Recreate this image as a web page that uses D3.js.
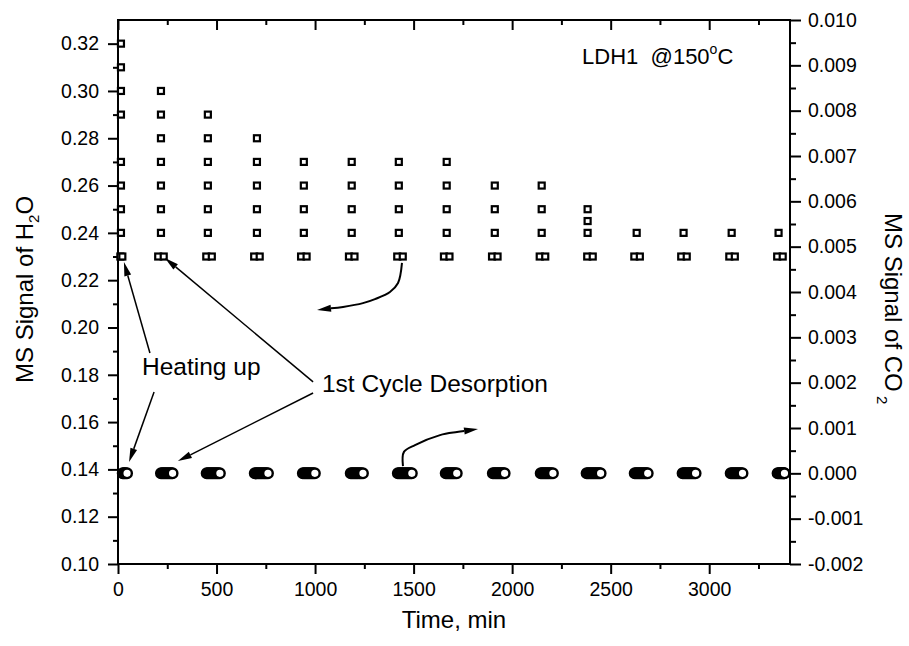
<!DOCTYPE html>
<html>
<head>
<meta charset="utf-8">
<script src="https://cdn.jsdelivr.net/npm/d3@7"></script>
<style>
  html, body { margin: 0; padding: 0; background: #fff; }
  #chart { width: 909px; height: 646px; }
  text { font-family: "Liberation Sans", Arial, sans-serif; fill: #000; }
</style>
</head>
<body>
<div id="chart"></div>
<script>
// 1. DATA
// H2O signal (left axis): one column of quantised levels per cycle
const h2oTimes = [15, 218, 456, 705, 943, 1186, 1425, 1668, 1912, 2150, 2383, 2632, 2870, 3114, 3352];
const h2oLevels = [
    [0.32, 0.31, 0.30, 0.29, 0.27, 0.26, 0.25, 0.24],
    [0.30, 0.29, 0.28, 0.27, 0.26, 0.25, 0.24],
    [0.29, 0.28, 0.27, 0.26, 0.25, 0.24],
    [0.28, 0.27, 0.26, 0.25, 0.24],
    [0.27, 0.26, 0.25, 0.24],
    [0.27, 0.26, 0.25, 0.24],
    [0.27, 0.26, 0.25, 0.24],
    [0.27, 0.26, 0.25, 0.24],
    [0.26, 0.25, 0.24],
    [0.26, 0.25, 0.24],
    [0.25, 0.245, 0.24],
    [0.24],
    [0.24],
    [0.24],
    [0.24]
];
// floor level of H2O, a couple of readings per cycle
const h2oFloorLevel = 0.23;
const h2oFloorTimes = [
    [12, 22], [204, 232], [448, 476], [691, 719], [929, 957], [1172, 1200], [1417, 1445],
    [1654, 1682], [1898, 1926], [2140, 2168], [2381, 2409], [2620, 2648], [2858, 2886],
    [3102, 3130], [3345, 3373]
];
// CO2 signal (right axis): stays at zero, dense readings per cycle
const co2Level = 0;
const co2Times = [
    [24, 29, 34, 40, 46],
    [218, 224, 230, 236, 242, 248, 254, 260, 266, 272, 277],
    [450, 456, 462, 468, 474, 480, 486, 492, 498, 504, 510, 517],
    [694, 700, 706, 712, 718, 724, 730, 736, 742, 748, 754, 761],
    [938, 944, 950, 956, 962, 968, 974, 980, 986, 992, 999],
    [1181, 1187, 1193, 1199, 1205, 1211, 1217, 1223, 1229, 1235, 1243],
    [1420, 1426, 1432, 1438, 1444, 1450, 1456, 1462, 1468, 1474, 1480, 1486, 1491],
    [1663, 1669, 1675, 1681, 1687, 1693, 1699, 1705, 1711, 1719],
    [1902, 1908, 1914, 1920, 1926, 1932, 1938, 1944, 1950, 1956, 1962],
    [2145, 2151, 2157, 2163, 2169, 2175, 2181, 2187, 2193, 2199, 2207],
    [2378, 2384, 2390, 2396, 2402, 2408, 2414, 2420, 2426, 2432, 2438, 2444, 2449],
    [2622, 2628, 2634, 2640, 2646, 2652, 2658, 2664, 2670, 2676, 2682, 2688],
    [2865, 2871, 2877, 2883, 2889, 2895, 2901, 2907, 2913, 2919, 2925, 2931],
    [3109, 3115, 3121, 3127, 3133, 3139, 3145, 3151, 3157, 3163, 3169],
    [3347, 3352, 3357, 3362, 3366, 3370, 3374, 3377, 3380, 3382]
];
// tick labels
const xTicks = [0, 500, 1000, 1500, 2000, 2500, 3000];
const h2oTicks = [0.10, 0.12, 0.14, 0.16, 0.18, 0.20, 0.22, 0.24, 0.26, 0.28, 0.30, 0.32];
const co2Ticks = [-0.002, -0.001, 0, 0.001, 0.002, 0.003, 0.004, 0.005, 0.006, 0.007, 0.008, 0.009, 0.010];

const drawChart = () => {
    const W = 909, H = 646;
    const plot = { left: 118, right: 790, top: 20, bottom: 564 };

    // 2. SCALES
    const x = d3.scaleLinear().domain([0, 3410]).range([plot.left, plot.right]);
    const yL = d3.scaleLinear().domain([0.10, 0.33]).range([plot.bottom, plot.top]);
    const yR = d3.scaleLinear().domain([-0.002, 0.010]).range([plot.bottom, plot.top]);

    const svg = d3.select("#chart").append("svg")
        .attr("width", W)
        .attr("height", H);

    // 3. AXES
    const styleAxis = g => {
        g.select(".domain").remove();
        g.selectAll(".tick line").attr("stroke", "#000").attr("stroke-width", 2);
        g.selectAll(".tick text").style("font-size", "19.5px");
    };
    const xMinor = d3.range(250, 3410, 500);
    const h2oMinor = d3.range(0.11, 0.325, 0.02);
    const co2Minor = d3.range(-0.0015, 0.0099, 0.001);

    svg.append("g").attr("transform", `translate(0,${plot.bottom})`)
        .call(d3.axisBottom(x).tickValues(xTicks).tickSize(10).tickPadding(8).tickFormat(d3.format("d")))
        .call(styleAxis);
    svg.append("g").attr("transform", `translate(0,${plot.bottom})`)
        .call(d3.axisBottom(x).tickValues(xMinor).tickSize(5).tickFormat(""))
        .call(styleAxis);
    svg.append("g").attr("transform", `translate(0,${plot.top})`)
        .call(d3.axisTop(x).tickValues(xTicks).tickSize(-10).tickFormat(""))
        .call(styleAxis);
    svg.append("g").attr("transform", `translate(0,${plot.top})`)
        .call(d3.axisTop(x).tickValues(xMinor).tickSize(-5).tickFormat(""))
        .call(styleAxis);

    svg.append("g").attr("transform", `translate(${plot.left},0)`)
        .call(d3.axisLeft(yL).tickValues(h2oTicks).tickSize(10).tickPadding(9).tickFormat(d3.format(".2f")))
        .call(styleAxis);
    svg.append("g").attr("transform", `translate(${plot.left},0)`)
        .call(d3.axisLeft(yL).tickValues(h2oMinor).tickSize(5).tickFormat(""))
        .call(styleAxis);

    svg.append("g").attr("transform", `translate(${plot.right},0)`)
        .call(d3.axisRight(yR).tickValues(co2Ticks).tickSize(11).tickPadding(7).tickFormat(d => d.toFixed(3)))
        .call(styleAxis);
    svg.append("g").attr("transform", `translate(${plot.right},0)`)
        .call(d3.axisRight(yR).tickValues(co2Minor).tickSize(6).tickFormat(""))
        .call(styleAxis);

    // frame
    svg.append("rect")
        .attr("x", plot.left).attr("y", plot.top)
        .attr("width", plot.right - plot.left).attr("height", plot.bottom - plot.top)
        .attr("fill", "none").attr("stroke", "#000").attr("stroke-width", 2);

    // 4. MARKERS
    const squares = h2oTimes.flatMap((t, i) => h2oLevels[i].map(v => ({ t, v })))
        .concat(h2oFloorTimes.flatMap(ts => ts.map(t => ({ t, v: h2oFloorLevel }))));
    const side = 6;
    svg.append("g").selectAll("rect")
        .data(squares)
        .join("rect")
        .attr("x", d => x(d.t) - side / 2)
        .attr("y", d => yL(d.v) - side / 2)
        .attr("width", side).attr("height", side)
        .attr("fill", "#fff").attr("stroke", "#000").attr("stroke-width", 2.2);

    svg.append("g").selectAll("circle")
        .data(co2Times.flat())
        .join("circle")
        .attr("cx", d => x(d))
        .attr("cy", yR(co2Level))
        .attr("r", 4.8)
        .attr("fill", "#fff").attr("stroke", "#000").attr("stroke-width", 2.4);

    // 5. ANNOTATIONS (positions in data units of the left axis)
    const ann = svg.append("g");
    const arrow = (pts, curved, width) => {
        const p = pts.map(([t, v]) => [x(t), yL(v)]);
        const tip = p[p.length - 1], prev = p[p.length - 2];
        const ang = Math.atan2(tip[1] - prev[1], tip[0] - prev[0]);
        const len = 14, half = 3.5;
        const base = [tip[0] - len * Math.cos(ang), tip[1] - len * Math.sin(ang)];
        const line = curved ? d3.line().curve(d3.curveCatmullRom) : d3.line();
        ann.append("path")
            .attr("d", line(p.slice(0, -1).concat([base])))
            .attr("fill", "none").attr("stroke", "#000").attr("stroke-width", width);
        ann.append("path")
            .attr("d", `M${tip[0]},${tip[1]}L${base[0] - half * Math.sin(ang)},${base[1] + half * Math.cos(ang)}L${base[0] + half * Math.sin(ang)},${base[1] - half * Math.cos(ang)}Z`)
            .attr("fill", "#000");
    };
    arrow([[162, 0.1892], [30, 0.2277]], false, 1.5);
    arrow([[183, 0.1727], [56, 0.1431]], false, 1.5);
    arrow([[990, 0.1770], [238, 0.2294]], false, 1.5);
    arrow([[990, 0.1723], [304, 0.1435]], false, 1.5);
    arrow([[1441, 0.2273], [1421, 0.2188], [1380, 0.2150], [1304, 0.2120], [1243, 0.2103], [1142, 0.2087], [1010, 0.2074]], true, 2);
    arrow([[1446, 0.1414], [1451, 0.1474], [1507, 0.1503], [1634, 0.1545], [1720, 0.1558], [1827, 0.1571]], true, 2);

    ann.append("text")
        .attr("x", x(122)).attr("y", yL(0.1799))
        .style("font-size", "24.5px")
        .text("Heating up");
    ann.append("text")
        .attr("x", x(1035)).attr("y", yL(0.1727))
        .style("font-size", "24.5px")
        .text("1st Cycle Desorption");

    const ldh = ann.append("text")
        .attr("x", x(2355)).attr("y", yL(0.3114))
        .style("font-size", "22px");
    ldh.append("tspan").text("LDH1\u00a0 @150");
    ldh.append("tspan").attr("dy", -10).style("font-size", "14px").text("o");
    ldh.append("tspan").attr("dy", 10).text("C");

    // 6. AXIS TITLES
    svg.append("text")
        .attr("x", (plot.left + plot.right) / 2).attr("y", 628)
        .attr("text-anchor", "middle")
        .style("font-size", "24px")
        .text("Time, min");

    const lt = svg.append("text")
        .attr("transform", `translate(33,383) rotate(-90)`)
        .style("font-size", "24px");
    lt.append("tspan").text("MS Signal of H");
    lt.append("tspan").attr("dy", 6).style("font-size", "15px").text("2");
    lt.append("tspan").attr("dy", -6).text("O");

    const rt = svg.append("text")
        .attr("transform", `translate(885,213) rotate(90)`)
        .style("font-size", "24px");
    rt.append("tspan").text("MS Signal of CO");
    rt.append("tspan").attr("dy", 8).style("font-size", "15px").text("\u00a02");
};

document.addEventListener("DOMContentLoaded", drawChart);
</script>
</body>
</html>
